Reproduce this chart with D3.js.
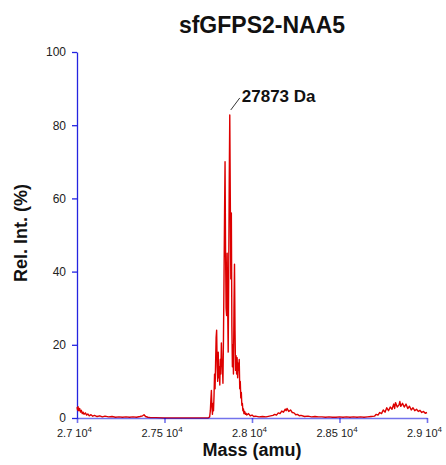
<!DOCTYPE html>
<html>
<head>
<meta charset="utf-8">
<script src="https://cdn.jsdelivr.net/npm/d3@7"></script>
<style>
  body { margin: 0; background: #fff; }
  text { font-family: Arial, "Liberation Sans", sans-serif; }
</style>
</head>
<body>
<svg id="chart" width="446" height="465"></svg>
<script>
// spectrum (mass in Da, relative intensity in %)
const mass = [
  27000, 27003, 27006, 27010, 27015, 27020, 27025, 27030, 27035, 27040,
  27048, 27055, 27062, 27070, 27080, 27090, 27100, 27115, 27130, 27145,
  27160, 27180, 27200, 27220, 27240, 27260, 27280, 27300, 27320, 27340,
  27360, 27375, 27383, 27392, 27405, 27420, 27450, 27500, 27600, 27700,
  27750, 27758, 27762, 27765, 27768, 27771, 27774, 27777, 27780, 27783,
  27786, 27789, 27792, 27795, 27798, 27801, 27804, 27807, 27810, 27813,
  27816, 27819, 27822, 27825, 27828, 27831, 27834, 27837, 27840, 27843,
  27846, 27849, 27852, 27855, 27858, 27861, 27864, 27867, 27870, 27873,
  27876, 27879, 27882, 27885, 27888, 27891, 27894, 27897, 27900, 27903,
  27906, 27909, 27912, 27915, 27918, 27921, 27924, 27927, 27930, 27933,
  27936, 27939, 27942, 27945, 27948, 27951, 27954, 27958, 27962, 27966,
  27970, 27980, 27990, 28000, 28010, 28020, 28040, 28060, 28080, 28100,
  28120, 28130, 28140, 28150, 28160, 28170, 28180, 28190, 28195, 28200,
  28210, 28220, 28230, 28240, 28250, 28260, 28270, 28280, 28300, 28320,
  28340, 28360, 28380, 28400, 28420, 28440, 28460, 28480, 28500, 28520,
  28540, 28560, 28580, 28600, 28620, 28640, 28660, 28680, 28700, 28710,
  28720, 28730, 28740, 28750, 28760, 28770, 28780, 28790, 28800, 28810,
  28815, 28820, 28830, 28840, 28845, 28850, 28860, 28870, 28880, 28890,
  28900, 28910, 28920, 28930, 28940, 28950, 28960, 28970, 28980, 28990,
  29000
];
const relInt = [
  3.0, 2.2, 3.1, 2.0, 2.6, 1.6, 2.1, 1.2, 1.6, 1.0,
  1.4, 0.8, 1.1, 0.6, 0.9, 0.5, 0.7, 0.4, 0.6, 0.3,
  0.5, 0.3, 0.4, 0.2, 0.3, 0.2, 0.3, 0.2, 0.3, 0.2,
  0.4, 0.6, 0.9, 0.4, 0.2, 0.1, 0.1, 0.0, 0.0, 0.0,
  0.0, 0.3, 2.0, 5.0, 7.5, 3.0, 1.0, 4.0, 2.0, 6.0,
  12.0, 8.0, 15.0, 22.0, 24.0, 14.0, 10.0, 18.0, 11.0, 14.0,
  9.0, 16.0, 12.0, 20.5, 15.0, 14.0, 9.5, 22.0, 38.0, 55.0,
  70.0, 45.0, 30.0, 28.0, 45.0, 30.0, 18.0, 40.0, 65.0, 82.8,
  60.0, 38.0, 56.0, 25.0, 14.0, 20.0, 12.0, 30.0, 42.0, 24.0,
  13.0, 17.0, 12.0, 16.5, 11.0, 15.0, 13.0, 16.0, 8.0, 10.0,
  5.5, 7.0, 3.5, 4.0, 2.0, 2.5, 1.2, 1.8, 1.0, 1.3,
  0.8, 1.2, 0.6, 0.8, 0.4, 0.5, 0.3, 0.4, 0.3, 0.5,
  0.7, 1.0, 0.8, 1.4, 1.2, 1.9, 1.6, 2.4, 2.0, 2.6,
  1.8, 2.2, 1.5, 1.4, 0.9, 1.0, 0.6, 0.7, 0.4, 0.5,
  0.3, 0.4, 0.3, 0.3, 0.2, 0.3, 0.2, 0.2, 0.3, 0.2,
  0.3, 0.2, 0.3, 0.2, 0.3, 0.2, 0.3, 0.4, 0.5, 1.0,
  0.8, 1.5, 1.2, 2.2, 1.6, 2.8, 2.0, 3.0, 2.4, 3.8,
  2.6, 4.2, 3.0, 3.6, 4.5, 3.2, 4.0, 3.0, 3.8, 2.6,
  3.2, 2.2, 2.8, 2.0, 2.4, 1.8, 2.1, 1.5, 1.8, 1.3,
  1.5
];
const xTicks = [27000, 27500, 28000, 28500, 29000];
const xTickText = ["2.7", "2.75", "2.8", "2.85", "2.9"];
const yTicks = [0, 20, 40, 60, 80, 100];
const peakMass = 27873;
const peakVal = 82.8;
const peakLabel = "27873 Da";

const margin = {top: 52, right: 19, bottom: 47, left: 77};
const svg = d3.select('#chart'),
  width = +svg.attr('width') - margin.left - margin.right,
  height = +svg.attr('height') - margin.top - margin.bottom;

const x = d3.scaleLinear().domain([27000, 29000]).range([0, width]);
const y = d3.scaleLinear().domain([0, 100]).range([height, 0]);

const g = svg.append('g').attr('transform', 'translate(' + margin.left + ',' + margin.top + ')');

// y axis
const yAxis = g.append('g')
  .call(d3.axisLeft(y).tickValues(yTicks).tickSize(5).tickSizeOuter(0).tickPadding(6));
yAxis.selectAll('path, line').attr('stroke', '#2424e0').attr('stroke-width', 1.3);
yAxis.selectAll('text').attr('font-size', 12).attr('fill', '#222');

// spectrum
const pts = mass.map((m, i) => [m, relInt[i]]);
const line = d3.line().x(d => x(d[0])).y(d => y(d[1]));
g.append('path')
  .datum(pts)
  .attr('fill', 'none')
  .attr('stroke', '#dd0000')
  .attr('stroke-width', 1.4)
  .attr('stroke-linejoin', 'round')
  .attr('d', line);

// x axis, drawn over the trace, semi transparent
const xAxis = g.append('g')
  .attr('transform', 'translate(0,' + height + ')')
  .call(d3.axisBottom(x).tickValues(xTicks).tickSize(5).tickSizeOuter(0).tickPadding(6));
xAxis.selectAll('path, line').attr('stroke', '#0000dd').attr('stroke-opacity', 0.55).attr('stroke-width', 1.6);
xAxis.selectAll('text')
  .attr('font-size', 11)
  .attr('fill', '#222')
  .attr('dx', -3)
  .text(null)
  .each(function(d, i) {
    const t = d3.select(this);
    t.append('tspan').text(xTickText[i] + ' 10');
    t.append('tspan').attr('dy', -5).attr('font-size', 8).text('4');
  });

// peak annotation
g.append('line')
  .attr('x1', x(peakMass) + 1).attr('y1', y(peakVal) - 5)
  .attr('x2', x(peakMass) + 10).attr('y2', y(peakVal) - 17)
  .attr('stroke', '#000').attr('stroke-width', 0.8);
g.append('text')
  .attr('x', x(peakMass) + 12).attr('y', y(peakVal) - 13)
  .attr('font-size', 17).attr('font-weight', 'bold').attr('fill', '#111')
  .text(peakLabel);

// titles
svg.append('text')
  .attr('x', 262).attr('y', 33)
  .attr('text-anchor', 'middle')
  .attr('font-size', 23).attr('font-weight', 'bold').attr('fill', '#111')
  .text('sfGFPS2-NAA5');

svg.append('text')
  .attr('x', margin.left + width / 2).attr('y', 456)
  .attr('text-anchor', 'middle')
  .attr('font-size', 18).attr('font-weight', 'bold').attr('fill', '#111')
  .text('Mass (amu)');

svg.append('text')
  .attr('transform', 'translate(27,' + (margin.top + height / 2 - 2) + ') rotate(-90)')
  .attr('text-anchor', 'middle')
  .attr('font-size', 18).attr('font-weight', 'bold').attr('fill', '#111')
  .text('Rel. Int. (%)');
</script>
</body>
</html>
